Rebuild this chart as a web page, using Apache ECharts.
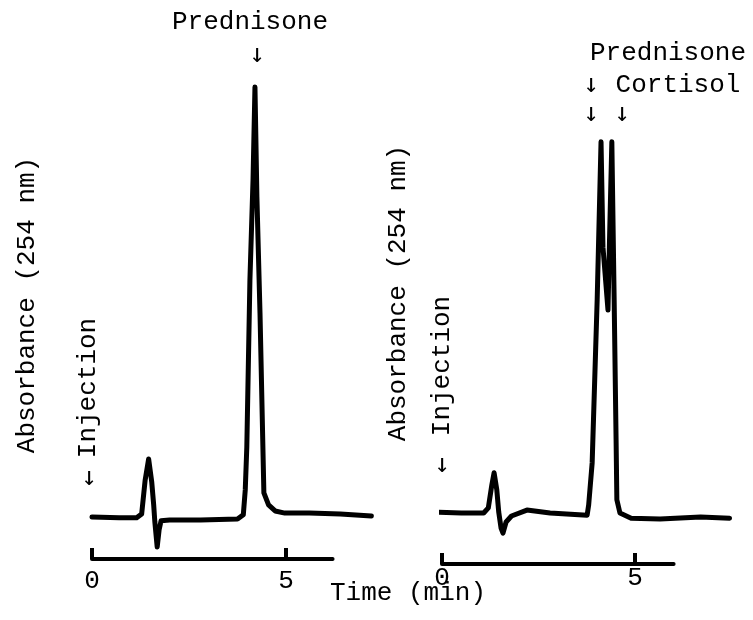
<!DOCTYPE html>
<html>
<head>
<meta charset="utf-8">
<script src="https://cdn.jsdelivr.net/npm/echarts@6/dist/echarts.min.js"></script>
<style>
html,body{margin:0;padding:0;background:#fff;}
#chart{width:753px;height:620px;}
</style>
</head>
<body>
<div id="chart"></div>
<script>
// Left chromatogram (Prednisone alone): [time (min), absorbance (arb. units)]
var leftTime = [0.00,0.70,1.15,1.28,1.37,1.46,1.54,1.59,1.62,1.68,1.73,1.78,2.00,2.80,3.75,3.90,3.95,3.99,4.07,4.15,4.20,4.25,4.33,4.43,4.55,4.72,4.97,5.60,6.40,7.20];
var leftAbs  = [-0.2,-0.4,-0.4,0.5,8.4,13.3,7.9,2.6,-1.4,-7.2,-3.2,-1.1,-0.9,-0.9,-0.7,0.3,6.1,16.1,55.0,78.3,100.0,74.4,47.3,5.4,2.6,1.2,0.7,0.7,0.5,0.0];
// Right chromatogram (Prednisone + Cortisol)
var rightTime = [-0.13,0.50,1.08,1.20,1.29,1.35,1.42,1.47,1.53,1.58,1.66,1.80,2.20,2.80,3.76,3.80,3.89,4.02,4.12,4.17,4.30,4.34,4.40,4.46,4.51,4.53,4.61,4.90,5.65,6.70,7.45];
var rightAbs  = [0.1,-0.1,-0.1,1.1,6.4,9.3,5.3,0.1,-3.6,-4.8,-2.2,-0.8,0.6,-0.1,-0.6,1.8,11.6,49.7,86.6,62.0,47.3,63.7,86.6,49.7,17.0,3.0,-0.1,-1.3,-1.5,-1.0,-1.3];
// Time axis: drawn range and labelled ticks
var leftAxisEnd = 6.2;
var rightAxisEnd = 6.0;
var tickValues = [0, 5];
var tickLabels = ['0', '5'];

function pairs(t, a){ return t.map(function(x,i){ return [x, a[i]]; }); }

var FONT = '"Liberation Mono", "DejaVu Sans Mono", monospace';
var ARROWFONT = '"DejaVu Sans Mono", monospace';

function xAx(idx, max, margin){
  return {
    type:'value', gridIndex: idx, min:0, max:max,
    axisLine:{show:false, onZero:false},
    axisTick:{show:true, inside:true, length:11, customValues: tickValues, lineStyle:{color:'#000', width:4}},
    axisLabel:{show:true, customValues: tickValues, margin: margin, color:'#000', fontFamily: FONT, fontSize:26,
      formatter:function(v){ var i = tickValues.indexOf(v); return i>=0 ? tickLabels[i] : ''; }},
    splitLine:{show:false}
  };
}
function yAx(idx, min, max){
  return {type:'value', gridIndex: idx, min:min, max:max, show:false, splitLine:{show:false}};
}

function txt(x, y, s, size, rot, font){
  return {type:'text', x:x, y:y, rotation: rot||0,
    style:{text:s, fill:'#000', font: (size)+'px '+(font||FONT), textAlign:'center', textVerticalAlign:'middle'}};
}

var LY = [-10, 100], RY = [-12, 98];

var chart = echarts.init(document.getElementById('chart'), null, {renderer:'canvas'});
chart.setOption({
  backgroundColor:'#fff',
  animation:false,
  grid:[
    {left:92, width:281.3, top:87, bottom:61},
    {left:442, width:289.5, top:93, bottom:56}
  ],
  xAxis:[xAx(0, 7.25, 9), xAx(1, 7.5, 1)],
  yAxis:[yAx(0, LY[0], LY[1]), yAx(1, RY[0], RY[1])],
  series:[
    {type:'line', xAxisIndex:0, yAxisIndex:0, data: [[0, LY[0]], [leftAxisEnd, LY[0]]], showSymbol:false, clip:false,
      lineStyle:{color:'#000', width:4, cap:'round'}},
    {type:'line', xAxisIndex:1, yAxisIndex:1, data: [[0, RY[0]], [rightAxisEnd, RY[0]]], showSymbol:false, clip:false,
      lineStyle:{color:'#000', width:4, cap:'round'}},
    {type:'line', xAxisIndex:0, yAxisIndex:0, data: pairs(leftTime, leftAbs), showSymbol:false, clip:false,
      lineStyle:{color:'#000', width:5, cap:'round', join:'round'}},
    {type:'line', xAxisIndex:1, yAxisIndex:1, data: pairs(rightTime, rightAbs), showSymbol:false, clip:false,
      lineStyle:{color:'#000', width:5, cap:'round', join:'round'}}
  ],
  graphic:[
    txt(250, 22, 'Prednisone', 26),
    txt(257, 55, '↓', 26, 0, ARROWFONT),
    txt(27, 305, 'Absorbance (254 nm)', 26, Math.PI/2),
    txt(88, 388, 'Injection', 26, Math.PI/2),
    txt(89, 478, '↓', 26, 0, ARROWFONT),
    txt(668, 53, 'Prednisone', 26),
    txt(591, 85, '↓', 26, 0, ARROWFONT),
    txt(678, 85, 'Cortisol', 26),
    txt(591, 114, '↓', 26, 0, ARROWFONT),
    txt(622, 114, '↓', 26, 0, ARROWFONT),
    txt(398, 293, 'Absorbance (254 nm)', 26, Math.PI/2),
    txt(442, 366, 'Injection', 26, Math.PI/2),
    txt(442, 465, '↓', 26, 0, ARROWFONT),
    txt(408, 593, 'Time (min)', 26)
  ]
});
</script>
</body>
</html>
